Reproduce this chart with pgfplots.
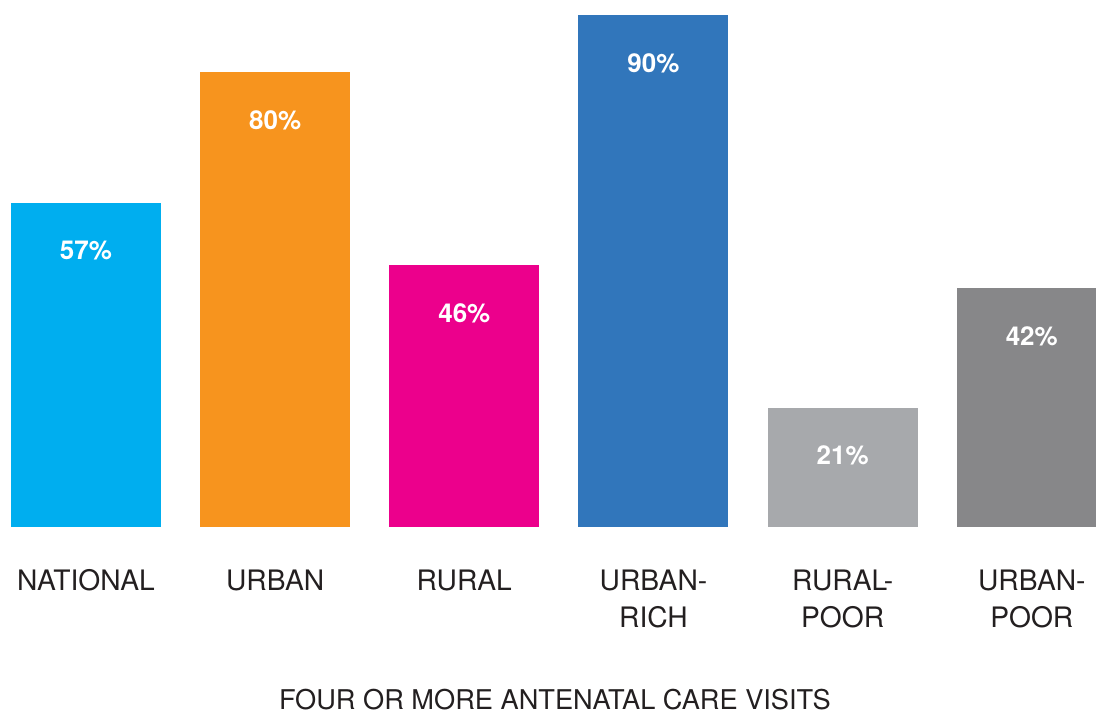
\documentclass[border=0pt]{standalone}
\usepackage{pgfplots}
\pgfplotsset{compat=1.18}
\usepackage{fontspec}
\setmainfont{TeX Gyre Heros}
\definecolor{cNat}{HTML}{00AEEF}
\definecolor{cUrb}{HTML}{F7941E}
\definecolor{cRur}{HTML}{EC008C}
\definecolor{cRich}{HTML}{3176BB}
\definecolor{cRPoor}{HTML}{A7A9AC}
\definecolor{cUPoor}{HTML}{878789}
\definecolor{txt}{HTML}{231F20}
\begin{document}
\begin{tikzpicture}
\begin{axis}[
  at={(-8.6pt,188pt)}, anchor=south west,
  scale only axis, width=1135pt, height=512pt,
  xmin=-0.5, xmax=5.5, ymin=0, ymax=90,
  axis line style={draw=none}, ticks=none,
  xtick={0,1,2,3,4,5},
  xticklabels={NATIONAL,URBAN,RURAL,URBAN-\\RICH,RURAL-\\POOR,URBAN-\\POOR},
  xtick style={draw=none}, ytick=\empty,
  xmajorticks=true,
  xticklabel style={align=center, anchor=north, yshift=-35pt, text=txt,
    font=\fontsize{28.2}{37}\selectfont},
  xlabel={FOUR OR MORE ANTENATAL CARE VISITS},
  xlabel style={at={(axis description cs:0.5,0)}, anchor=center, inner sep=0pt,
    yshift=-173pt, xshift=-4pt,
    text=txt, font=\fontsize{27.2}{30}\selectfont},
  ybar, bar width=150pt, bar shift=0pt,
  /pgf/number format/assume math mode=true,
  nodes near coords={\pgfmathprintnumber[assume math mode=true]{\pgfplotspointmeta}\%},
  every node near coord/.append style={anchor=center, yshift=-48pt, text=white,
    font=\fontsize{26}{30}\selectfont\bfseries},
  clip=false,
]
\addplot[fill=cNat, draw=none] coordinates {(0,57)};
\addplot[fill=cUrb, draw=none] coordinates {(1,80)};
\addplot[fill=cRur, draw=none] coordinates {(2,46)};
\addplot[fill=cRich, draw=none] coordinates {(3,90)};
\addplot[fill=cRPoor, draw=none] coordinates {(4,21)};
\addplot[fill=cUPoor, draw=none] coordinates {(5,42)};
\end{axis}
\pgfresetboundingbox
\path[use as bounding box] (0,0) rectangle (1096pt,715pt);
\end{tikzpicture}
\end{document}
